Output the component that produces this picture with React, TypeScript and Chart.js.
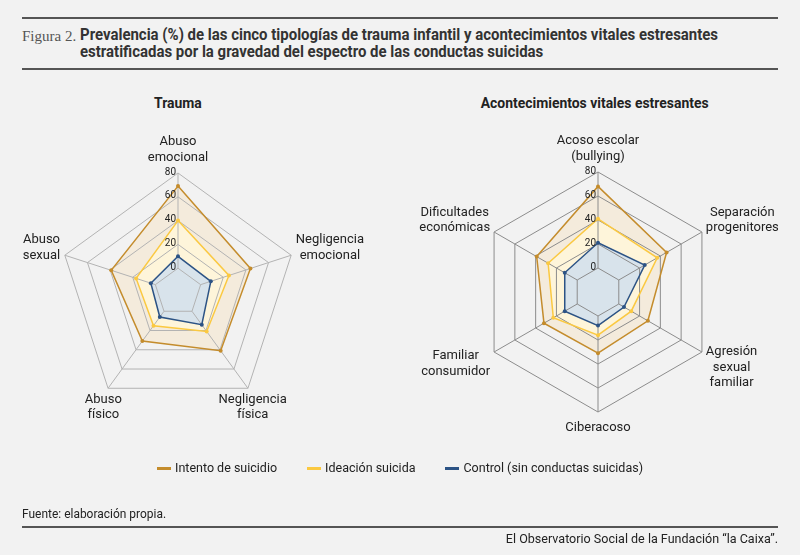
import { useEffect, useRef } from "react";
import { Chart, registerables } from "chart.js";

Chart.register(...registerables);

// Trauma (pentágono)
const traumaLabels = [
  ["Abuso", "emocional"],
  ["Negligencia", "emocional"],
  ["Negligencia", "física"],
  ["Abuso", "físico"],
  ["Abuso", "sexual"],
];
const traumaIntento = [69, 44, 41, 31, 39];
const traumaIdeacion = [40, 25, 21, 15, 17];
const traumaControl = [10, 9, 14, 6, 4];

// Acontecimientos vitales estresantes (hexágono)
const avesLabels = [
  ["Acoso escolar", "(bullying)"],
  ["Separación", "progenitores"],
  ["Agresión", "sexual", "familiar"],
  ["Ciberacoso"],
  ["Familiar", "consumidor"],
  ["Dificultades", "económicas"],
];
const avesIntento = [68, 46, 28, 31, 32, 39];
const avesIdeacion = [41, 37, 12, 16, 23, 28];
const avesControl = [21, 25, 5, 8, 12, 12];

const tickValues = [0, 20, 40, 60, 80];
const seriesNames = ["Intento de suicidio", "Ideación suicida", "Control (sin conductas suicidas)"];
const seriesColors = ["#c48c2c", "#fbc941", "#2c5385"];
const seriesFills = ["#f4ebdc", "#fef5da", "#d8e3eb"];

const FONT = "Roboto, 'Liberation Sans', sans-serif";

// angle lines from the 0 ring outwards, tick labels and centred point labels
const radarDecor = {
  id: "radarDecor",
  beforeDatasetsDraw(chart: any, _args: any, opts: any) {
    const s = chart.scales.r;
    const ctx = chart.ctx;
    const n = chart.data.labels.length;
    ctx.save();
    ctx.strokeStyle = opts.gridColor;
    ctx.lineWidth = 1;
    for (let i = 0; i < n; i++) {
      const a = s.getPointPositionForValue(i, tickValues[0]);
      const b = s.getPointPositionForValue(i, tickValues[tickValues.length - 1]);
      ctx.beginPath();
      ctx.moveTo(a.x, a.y);
      ctx.lineTo(b.x, b.y);
      ctx.stroke();
    }
    ctx.restore();
  },
  afterDatasetsDraw(chart: any, _args: any, opts: any) {
    const s = chart.scales.r;
    const ctx = chart.ctx;
    ctx.save();
    ctx.fillStyle = "#222";
    ctx.font = "10px " + FONT;
    ctx.textAlign = "right";
    ctx.textBaseline = "middle";
    tickValues.forEach((v) => {
      const d = s.getDistanceFromCenterForValue(v);
      ctx.fillText(String(v), s.xCenter - 2, s.yCenter - d - 1);
    });

    ctx.font = "13px " + FONT;
    ctx.textAlign = "center";
    const lh = 15.5;
    const labels: string[][] = chart.data.labels;
    labels.forEach((lines, i) => {
      const p = s.getPointPosition(i, s.drawingArea + opts.labelPad);
      const ang = s.getIndexAngle(i) - Math.PI / 2;
      const c = Math.cos(ang);
      const sn = Math.sin(ang);
      const w = Math.max(...lines.map((l) => ctx.measureText(l).width));
      const h = lines.length * lh;
      const cx = p.x + (Math.abs(c) > 0.7 ? Math.sign(c) * (w / 2 - 3) : 0);
      const cy = p.y + (sn * h) / 2;
      lines.forEach((l, k) => ctx.fillText(l, cx, cy - h / 2 + lh * (k + 0.5)));
    });
    ctx.restore();
  },
};

type PanelProps = {
  labels: string[][];
  intento: number[];
  ideacion: number[];
  control: number[];
  pad: { left: number; right: number; top: number; bottom: number };
  gridColor: string;
};

function RadarPanel({ labels, intento, ideacion, control, pad, gridColor }: PanelProps) {
  const ref = useRef<HTMLCanvasElement>(null);

  useEffect(() => {
    if (!ref.current) return;
    const values = [intento, ideacion, control];
    const chart = new Chart(ref.current, {
      type: "radar",
      data: {
        labels: labels as any,
        datasets: values.map((d, i) => ({
          label: seriesNames[i],
          data: d,
          borderColor: seriesColors[i],
          backgroundColor: seriesFills[i],
          fill: "start",
          borderWidth: 1.5,
          pointRadius: 2,
          pointBorderWidth: 0,
          pointBackgroundColor: seriesColors[i],
          order: 3 - i,
        })),
      },
      options: {
        responsive: false,
        animation: false,
        layout: { padding: pad },
        plugins: {
          legend: { display: false },
          tooltip: { enabled: false },
          filler: { drawTime: "beforeDraw" },
          radarDecor: { gridColor, labelPad: 8 },
        } as any,
        scales: {
          r: {
            min: -20,
            max: 80,
            ticks: { display: false, stepSize: 20 },
            grid: { color: gridColor, lineWidth: 1 },
            angleLines: { display: false },
            pointLabels: { display: false },
          },
        },
      },
      plugins: [radarDecor],
    });
    return () => chart.destroy();
  }, []);

  return (
    <canvas
      ref={ref}
      width={800}
      height={555}
      style={{ position: "absolute", left: 0, top: 0, width: 800, height: 555 }}
    />
  );
}

const condensed = (scale: number, origin = "left center"): React.CSSProperties => ({
  display: "inline-block",
  transform: `scaleX(${scale})`,
  transformOrigin: origin,
  whiteSpace: "nowrap",
});

const rule = (top: number): React.CSSProperties => ({
  position: "absolute",
  left: 22,
  width: 756,
  top,
  height: 2,
  background: "#555",
});

export default function App() {
  return (
    <div
      style={{
        position: "fixed",
        left: 0,
        top: 0,
        width: 800,
        height: 555,
        background: "#f2f2f2",
        fontFamily: FONT,
        color: "#222",
        overflow: "hidden",
      }}
    >
      <div style={rule(17)} />
      <div style={{ position: "absolute", left: 22, top: 27, fontFamily: "'Liberation Serif', serif", fontSize: 15, color: "#555", lineHeight: "18px" }}>
        Figura 2.
      </div>
      <div style={{ position: "absolute", left: 80, top: 26, fontSize: 16, fontWeight: 700, color: "#333", lineHeight: "17px" }}>
        <div><span style={condensed(0.935)}>Prevalencia (%) de las cinco tipologías de trauma infantil y acontecimientos vitales estresantes</span></div>
        <div><span style={condensed(0.935)}>estratificadas por la gravedad del espectro de las conductas suicidas</span></div>
      </div>
      <div style={rule(68)} />

      <div style={{ position: "absolute", left: 78, width: 200, top: 95, textAlign: "center", fontSize: 14.5, fontWeight: 700, lineHeight: "18px" }}>
        <span style={condensed(0.96, "center")}>Trauma</span>
      </div>
      <div style={{ position: "absolute", left: 445, width: 300, top: 95, textAlign: "center", fontSize: 14.5, fontWeight: 700, lineHeight: "18px" }}>
        <span style={condensed(0.96, "center")}>Acontecimientos vitales estresantes</span>
      </div>

      <RadarPanel
        labels={traumaLabels}
        intento={traumaIntento}
        ideacion={traumaIdeacion}
        control={traumaControl}
        pad={{ left: 59, right: 503, top: 173, bottom: 144 }}
        gridColor="#b3b3b3"
      />
      <RadarPanel
        labels={avesLabels}
        intento={avesIntento}
        ideacion={avesIdeacion}
        control={avesControl}
        pad={{ left: 478, right: 82, top: 172, bottom: 143 }}
        gridColor="#8c8c8c"
      />

      <div style={{ position: "absolute", left: 0, width: 800, top: 460, display: "flex", justifyContent: "center", gap: 30, fontSize: 12.5, lineHeight: "16px" }}>
        {seriesNames.map((name, i) => (
          <div key={name} style={{ display: "flex", alignItems: "center" }}>
            <span style={{ display: "inline-block", width: 14, height: 3, background: seriesColors[i], marginRight: 4 }} />
            <span>{name}</span>
          </div>
        ))}
      </div>

      <div style={{ position: "absolute", left: 22, top: 506, fontSize: 13, lineHeight: "16px" }}>
        <span style={condensed(0.92)}>Fuente: elaboración propia.</span>
      </div>
      <div style={rule(526)} />
      <div style={{ position: "absolute", right: 22, top: 531, fontSize: 13, lineHeight: "16px", textAlign: "right" }}>
        <span style={condensed(0.965, "right center")}>El Observatorio Social de la Fundación “la Caixa”.</span>
      </div>
    </div>
  );
}
